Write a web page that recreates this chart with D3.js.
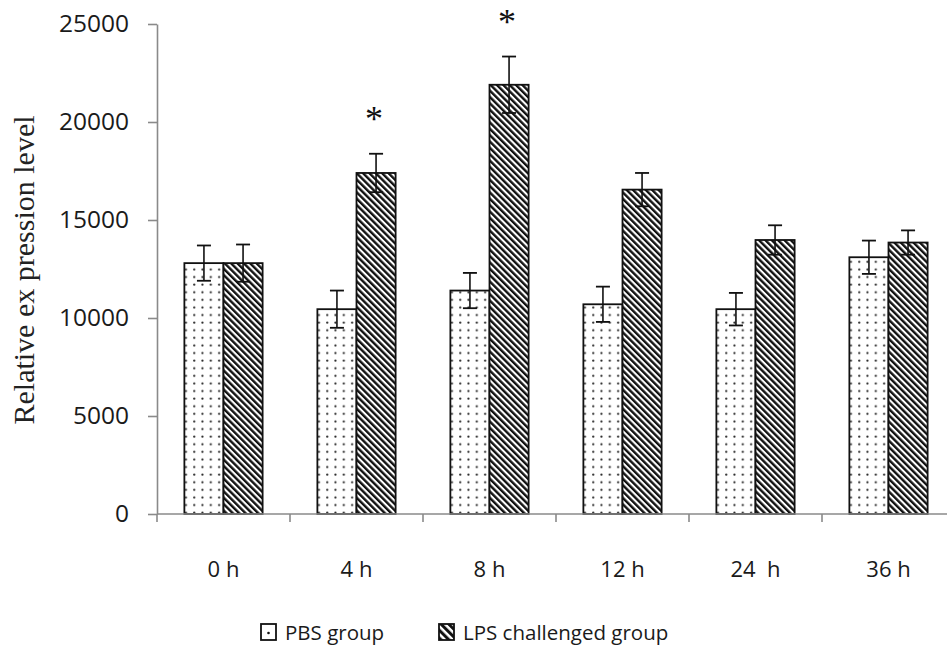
<!DOCTYPE html>
<html>
<head>
<meta charset="utf-8">
<script src="https://cdn.jsdelivr.net/npm/d3@7"></script>
<style>
  body { margin: 0; background: #fff; }
  svg text { font-family: "Open Sans", sans-serif; fill: #1a1a1a; }
  .xlab { white-space: pre; }
</style>
</head>
<body>
<svg id="chart"></svg>
<script>
// values
const categories = ["0 h", "4 h", "8 h", "12 h", "24  h", "36 h"];
const groups = ["PBS group", "LPS challenged group"];
const pbsMeans = [12800, 10450, 11400, 10700, 10450, 13100];
const pbsErr = [900, 950, 900, 900, 830, 850];
const lpsMeans = [12800, 17400, 21900, 16550, 13980, 13850];
const lpsErr = [950, 980, 1440, 850, 750, 620];
const yTicks = [0, 5000, 10000, 15000, 20000, 25000];
const significant = ["4 h", "8 h"];

const width = 947, height = 662;
const margin = { top: 24, left: 157, bottom: 148 };

const rows = [];
categories.forEach((c, i) => {
  rows.push({ cat: c, group: groups[0], value: pbsMeans[i], err: pbsErr[i] });
  rows.push({ cat: c, group: groups[1], value: lpsMeans[i], err: lpsErr[i] });
});

const svg = d3.select("#chart")
  .attr("width", width)
  .attr("height", height);

const defs = svg.append("defs");

// dotted fill for PBS
const dots = defs.append("pattern")
  .attr("id", "dots")
  .attr("patternUnits", "userSpaceOnUse")
  .attr("width", 8.3)
  .attr("height", 7.6);
dots.append("rect").attr("width", 8.3).attr("height", 7.6).attr("fill", "#fff");
dots.append("circle").attr("cx", 4).attr("cy", 3.5).attr("r", 1.1).attr("fill", "#222");

// diagonal hatch for LPS
const hatch = defs.append("pattern")
  .attr("id", "hatch")
  .attr("patternUnits", "userSpaceOnUse")
  .attr("width", 4.5)
  .attr("height", 10)
  .attr("patternTransform", "rotate(-45)");
hatch.append("rect").attr("width", 4.5).attr("height", 10).attr("fill", "#fff");
hatch.append("rect").attr("width", 2.4).attr("height", 10).attr("fill", "#111");

const hatchBig = defs.append("pattern")
  .attr("id", "hatchBig")
  .attr("patternUnits", "userSpaceOnUse")
  .attr("width", 5.5)
  .attr("height", 10)
  .attr("patternTransform", "rotate(-45)");
hatchBig.append("rect").attr("width", 5.5).attr("height", 10).attr("fill", "#fff");
hatchBig.append("rect").attr("width", 3).attr("height", 10).attr("fill", "#111");

const x0 = d3.scaleBand()
  .domain(categories)
  .range([margin.left, 955])
  .padding(0);

const x1 = d3.scaleBand()
  .domain(groups)
  .range([0, x0.bandwidth()])
  .paddingOuter(0.7)
  .paddingInner(0);

const y = d3.scaleLinear()
  .domain([0, 25000])
  .range([height - margin.bottom, margin.top]);

const fill = d3.scaleOrdinal().domain(groups).range(["url(#dots)", "url(#hatch)"]);

// y axis
const yAxisG = svg.append("g")
  .attr("transform", `translate(${margin.left},0)`)
  .call(d3.axisLeft(y).tickValues(yTicks).tickFormat(d3.format("d"))
    .tickSize(9).tickSizeOuter(0).tickPadding(19));
yAxisG.select(".domain").attr("stroke", "#8a8a8a").attr("stroke-width", 1.6);
yAxisG.selectAll(".tick line").attr("stroke", "#8a8a8a").attr("stroke-width", 1.6);
yAxisG.selectAll(".tick text").attr("font-size", 24.5).attr("font-family", "Open Sans").attr("fill", "#1a1a1a");

// bars
const barG = svg.append("g")
  .selectAll("g")
  .data(categories)
  .join("g")
  .attr("transform", d => `translate(${x0(d)},0)`);

barG.selectAll("rect")
  .data(c => rows.filter(r => r.cat === c))
  .join("rect")
  .attr("x", d => x1(d.group))
  .attr("y", d => y(d.value))
  .attr("width", x1.bandwidth())
  .attr("height", d => y(0) - y(d.value))
  .attr("fill", d => fill(d.group))
  .attr("stroke", "#111")
  .attr("stroke-width", 1.8);

// error bars
const errG = barG.selectAll("g.err")
  .data(c => rows.filter(r => r.cat === c))
  .join("g")
  .attr("class", "err")
  .attr("transform", d => `translate(${x1(d.group) + x1.bandwidth() / 2},0)`);
errG.append("line")
  .attr("y1", d => y(d.value + d.err))
  .attr("y2", d => y(d.value - d.err))
  .attr("stroke", "#111").attr("stroke-width", 1.6);
errG.selectAll("line.cap")
  .data(d => [d.value + d.err, d.value - d.err])
  .join("line")
  .attr("class", "cap")
  .attr("x1", -7).attr("x2", 7)
  .attr("y1", v => y(v)).attr("y2", v => y(v))
  .attr("stroke", "#111").attr("stroke-width", 1.8);

// significance marks
svg.append("g")
  .selectAll("text")
  .data(rows.filter(r => r.group === groups[1] && significant.includes(r.cat)))
  .join("text")
  .attr("x", d => x0(d.cat) + x1(d.group) + x1.bandwidth() / 2 - 2)
  .attr("y", d => y(d.value + d.err) - 23)
  .attr("text-anchor", "middle")
  .attr("font-size", 36)
  .style("font-family", "Liberation Serif")
  .style("fill", "#111")
  .text("*");

// x axis: line with ticks at category boundaries
const xAxisG = svg.append("g")
  .attr("transform", `translate(0,${y(0)})`);
xAxisG.append("line")
  .attr("x1", margin.left).attr("x2", 955)
  .attr("stroke", "#8a8a8a").attr("stroke-width", 1.6);
xAxisG.selectAll("line.tk")
  .data(categories)
  .join("line")
  .attr("class", "tk")
  .attr("x1", d => x0(d)).attr("x2", d => x0(d))
  .attr("y1", 0).attr("y2", 8)
  .attr("stroke", "#8a8a8a").attr("stroke-width", 1.6);
xAxisG.selectAll("text")
  .data(categories)
  .join("text")
  .attr("class", "xlab")
  .attr("x", d => x0(d) + x0.bandwidth() / 2)
  .attr("y", 63)
  .attr("text-anchor", "middle")
  .attr("font-size", 22)
  .text(d => d);

// y axis title
svg.append("text")
  .attr("transform", "translate(34,270) rotate(-90)")
  .attr("text-anchor", "middle")
  .style("font-family", "'Liberation Serif', serif")
  .attr("font-size", 30)
  .style("fill", "#222")
  .text("Relative ex pression level");

// legend
const legend = svg.append("g").attr("transform", "translate(0,632)");
const legendItems = [
  { label: groups[0], x: 261, fill: "url(#dots)" },
  { label: groups[1], x: 439, fill: "url(#hatchBig)" }
];
const li = legend.selectAll("g")
  .data(legendItems)
  .join("g")
  .attr("transform", d => `translate(${d.x},0)`);
li.append("rect")
  .attr("x", 0).attr("y", -8)
  .attr("width", 15).attr("height", 16)
  .attr("fill", d => d.fill === "url(#dots)" ? "#fff" : d.fill)
  .attr("stroke", "#111").attr("stroke-width", 1.8);
li.filter(d => d.label === groups[0])
  .append("circle")
  .attr("cx", 7.5).attr("cy", 1).attr("r", 1.3).attr("fill", "#111");
li.append("text")
  .attr("x", 24)
  .attr("y", 8)
  .attr("font-size", 20.5)
  .text(d => d.label);
</script>
</body>
</html>
